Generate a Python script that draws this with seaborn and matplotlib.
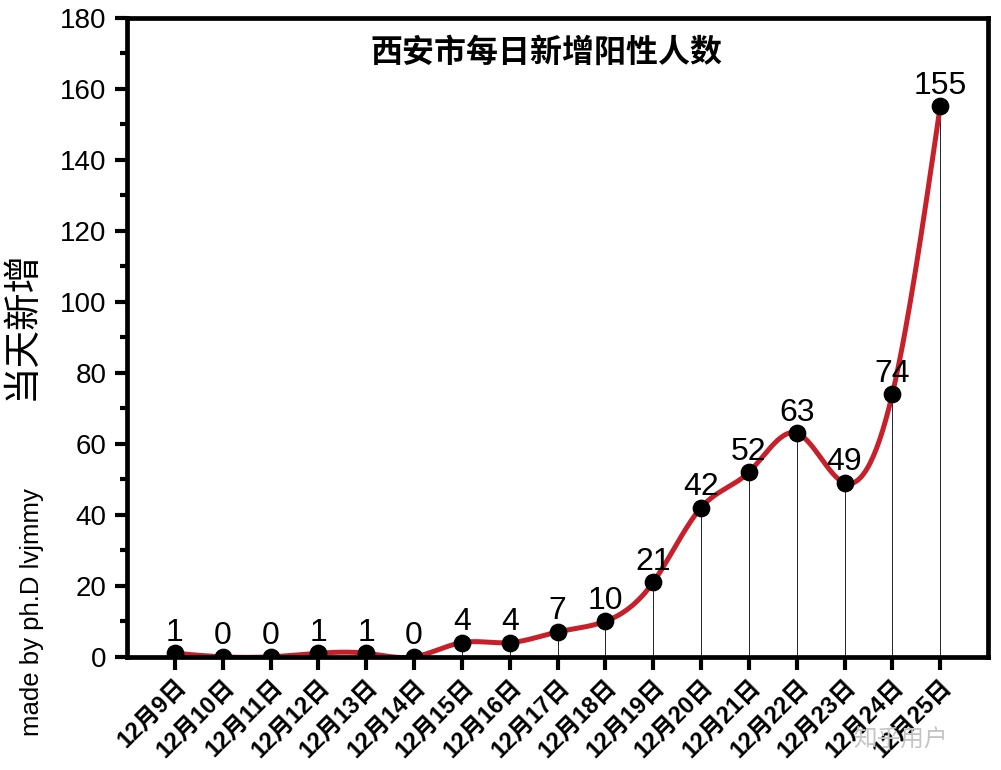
import numpy as np
import pandas as pd
import seaborn as sns
import matplotlib.pyplot as plt
from matplotlib.ticker import MultipleLocator

days = ['12月9日', '12月10日', '12月11日', '12月12日', '12月13日', '12月14日',
        '12月15日', '12月16日', '12月17日', '12月18日', '12月19日', '12月20日',
        '12月21日', '12月22日', '12月23日', '12月24日', '12月25日']
new_cases = [1, 0, 0, 1, 1, 0, 4, 4, 7, 10, 21, 42, 52, 63, 49, 74, 155]

df = pd.DataFrame({'day': days, 'cases': new_cases})
df['pos'] = range(len(days))

sns.set_style('ticks', {'axes.edgecolor': 'black', 'text.color': 'black',
                        'xtick.color': 'black', 'ytick.color': 'black',
                        'axes.labelcolor': 'black'})
plt.rcParams['font.family'] = ['Liberation Sans', 'Noto Sans CJK SC', 'DejaVu Sans']

fig = plt.figure(figsize=(10.01, 7.7), dpi=100)
ax = fig.add_axes([0.127, 0.147, 0.86, 0.83])


def natural_spline(x, y, n=30):
    # smooth curve through the points for drawing only
    x = np.asarray(x, float)
    y = np.asarray(y, float)
    k = len(x)
    h = np.diff(x)
    A = np.zeros((k, k))
    b = np.zeros(k)
    A[0, 0] = A[-1, -1] = 1
    for i in range(1, k - 1):
        A[i, i - 1] = h[i - 1]
        A[i, i] = 2 * (h[i - 1] + h[i])
        A[i, i + 1] = h[i]
        b[i] = 3 * ((y[i + 1] - y[i]) / h[i] - (y[i] - y[i - 1]) / h[i - 1])
    c = np.linalg.solve(A, b)
    xs, ys = [], []
    for i in range(k - 1):
        bb = (y[i + 1] - y[i]) / h[i] - h[i] * (2 * c[i] + c[i + 1]) / 3
        d = (c[i + 1] - c[i]) / (3 * h[i])
        t = np.linspace(0, h[i], n, endpoint=(i == k - 2))
        xs.append(x[i] + t)
        ys.append(y[i] + bb * t + c[i] * t ** 2 + d * t ** 3)
    return np.concatenate(xs), np.concatenate(ys)


sx, sy = natural_spline(df['pos'], df['cases'])
ax.vlines(df['pos'], 0, df['cases'], color='#222233', lw=0.7, zorder=1)
ax.plot(sx, sy, color='#C8202A', lw=3.6, zorder=2)
sns.scatterplot(data=df, x='pos', y='cases', color='black', s=140,
                edgecolor='black', zorder=3, ax=ax, legend=False)

for p, v in zip(df['pos'], df['cases']):
    ax.annotate(str(v), (p, v), xytext=(0, 4), textcoords='offset points',
                ha='center', va='bottom', fontsize=23, color='black')

ax.set_xlim(-1, 17)
ax.set_ylim(0, 180)
ax.yaxis.set_major_locator(MultipleLocator(20))
ax.yaxis.set_minor_locator(MultipleLocator(10))
ax.set_xticks(df['pos'])
ax.set_xticklabels(days, rotation=45, ha='right', rotation_mode='anchor',
                   fontsize=17, fontweight='bold')
ax.tick_params(axis='y', labelsize=20, width=3, length=9, direction='out', pad=6)
ax.tick_params(axis='y', which='minor', width=3, length=5)
ax.tick_params(axis='x', width=3, length=9, direction='out', pad=4)
for s in ax.spines.values():
    s.set_linewidth(3.4)
    s.set_visible(True)

ax.set_xlabel('')
ax.set_ylabel('')
fig.text(0.022, 0.578, '当天新增', rotation=90, ha='center', va='center',
         fontsize=27)
ax.text(0.487, 0.944, '西安市每日新增阳性人数', transform=ax.transAxes,
        ha='center', va='center', fontsize=23, fontweight='bold')

fig.text(0.032, 0.205, 'made by ph.D lvjmmy', rotation=90, ha='center',
         va='center', fontsize=18.5)
fig.text(0.9, 0.04, '知乎用户', ha='center', va='center', fontsize=17,
         color='#c4c4c4', zorder=10)

fig.savefig('out.png', dpi=100)
